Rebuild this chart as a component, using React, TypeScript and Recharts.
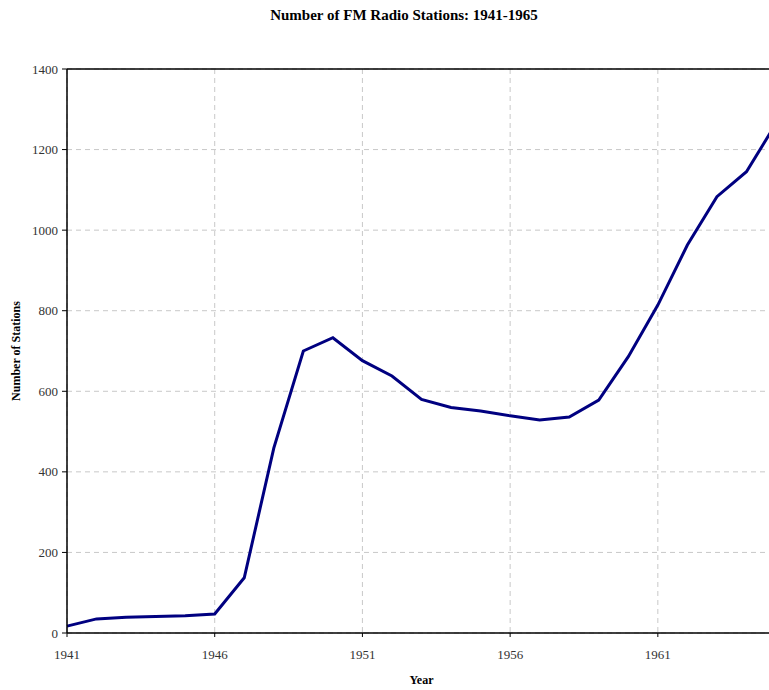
import React from 'react';
import { LineChart, Line, XAxis, YAxis, CartesianGrid, ReferenceLine, Label } from 'recharts';

const years = [
  1941, 1942, 1943, 1944, 1945, 1946, 1947, 1948, 1949, 1950, 1951, 1952, 1953,
  1954, 1955, 1956, 1957, 1958, 1959, 1960, 1961, 1962, 1963, 1964, 1965,
];
const stations = [
  17, 35, 39, 41, 43, 47, 137, 459, 700, 733, 676, 638, 580,
  560, 551, 539, 529, 536, 578, 686, 814, 963, 1083, 1145, 1265,
];
const xTicks = [1941, 1946, 1951, 1956, 1961];
const yTicks = [0, 200, 400, 600, 800, 1000, 1200, 1400];

const data = years.map((year, i) => ({ year, stations: stations[i] }));

const FONT = '"Liberation Serif", "DejaVu Serif", serif';

export default function App() {
  return (
    <div
      style={{
        position: 'absolute',
        left: 0,
        top: 0,
        width: 769,
        height: 690,
        overflow: 'hidden',
        background: '#fff',
        fontFamily: FONT,
      }}
    >
      <div
        style={{
          position: 'absolute',
          left: 0,
          width: 808,
          top: 7,
          textAlign: 'center',
          fontWeight: 'bold',
          fontSize: 15,
        }}
      >
        Number of FM Radio Stations: 1941-1965
      </div>
      <LineChart
        width={808}
        height={690}
        data={data}
        margin={{ top: 69, right: 32, bottom: 0, left: 0 }}
        style={{ position: 'absolute', left: 0, top: 0 }}
      >
        <CartesianGrid
          stroke="#c8c8c8"
          strokeDasharray="5 4"
          verticalValues={xTicks}
          horizontalValues={yTicks}
        />
        <XAxis
          dataKey="year"
          type="number"
          domain={[1941, 1965]}
          ticks={xTicks}
          height={57}
          stroke="#000"
          tickSize={4}
          tickMargin={13}
          tick={{ fill: '#333', fontSize: 13, fontFamily: FONT }}
          tickLine={{ stroke: '#000' }}
          axisLine={{ stroke: '#000', strokeWidth: 1.5 }}
        >
          <Label
            value="Year"
            position="insideBottom"
            offset={6}
            style={{ fontWeight: 'bold', fontSize: 12, fill: '#000', fontFamily: FONT }}
          />
        </XAxis>
        <YAxis
          type="number"
          domain={[0, 1400]}
          ticks={yTicks}
          width={67}
          stroke="#000"
          tickSize={5}
          tickMargin={4}
          tick={{ fill: '#333', fontSize: 13, fontFamily: FONT }}
          tickLine={{ stroke: '#000' }}
          axisLine={{ stroke: '#000', strokeWidth: 1.5 }}
        >
          <Label
            value="Number of Stations"
            angle={-90}
            position="insideLeft"
            offset={16}
            style={{ fontWeight: 'bold', fontSize: 12, fill: '#000', fontFamily: FONT, textAnchor: 'middle' }}
          />
        </YAxis>
        <ReferenceLine y={1400} stroke="#000" strokeWidth={1.5} />
        <Line
          type="linear"
          dataKey="stations"
          stroke="#000080"
          strokeWidth={3}
          dot={false}
          isAnimationActive={false}
        />
      </LineChart>
    </div>
  );
}
